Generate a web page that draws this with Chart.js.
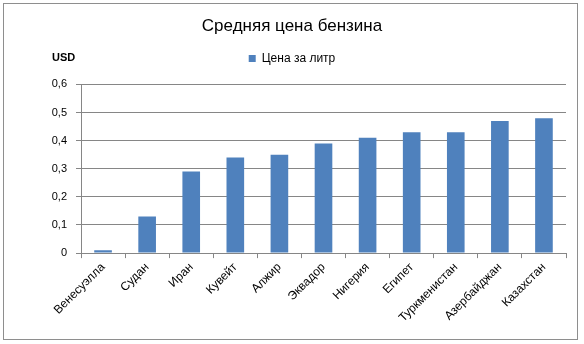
<!DOCTYPE html>
<html>
<head>
<meta charset="utf-8">
<script src="https://cdn.jsdelivr.net/npm/chart.js@4.4.1/dist/chart.umd.min.js"></script>
<style>
    body { margin: 0; background: #fff; }
    #wrap { position: relative; width: 584px; height: 344px; }
    #frame { position: absolute; left: 3px; top: 3px; width: 573px; height: 335px; border: 1px solid #8e8e8e; }
    canvas { position: absolute; left: 0; top: 0; }
</style>
</head>
<body>
<div id="wrap">
    <div id="frame"></div>
    <canvas id="fuelChart" width="584" height="344"></canvas>
</div>
<script>
// --- DATA ---
const countries = ['Венесуэлла', 'Судан', 'Иран', 'Кувейт', 'Алжир', 'Эквадор', 'Нигерия', 'Египет', 'Туркменистан', 'Азербайджан', 'Казахстан'];
const pricePerLitre = [0.01, 0.13, 0.29, 0.34, 0.35, 0.39, 0.41, 0.43, 0.43, 0.47, 0.48];
const chartTitle = 'Средняя цена бензина';
const seriesName = 'Цена за литр';
const unitLabel = 'USD';

const FONT = '"Liberation Sans", Arial, sans-serif';
const GRID = '#868686';

// small plugin for the "USD" caption above the value axis
const unitCaption = {
    id: 'unitCaption',
    afterDraw(chart) {
        const ctx = chart.ctx;
        ctx.save();
        ctx.font = 'bold 11px ' + FONT;
        ctx.fillStyle = '#000';
        ctx.textBaseline = 'middle';
        ctx.fillText(unitLabel, 52, 58);
        ctx.restore();
    }
};

// extra room under the legend, before the plot starts
const legendGap = {
    id: 'legendGap',
    beforeInit(chart) {
        const fit = chart.legend.fit;
        chart.legend.fit = function () {
            fit.call(this);
            this.height += 10;
        };
    }
};

new Chart(document.getElementById('fuelChart'), {
    type: 'bar',
    data: {
        labels: countries,
        datasets: [{
            label: seriesName,
            data: pricePerLitre,
            backgroundColor: '#4f81bd',
            borderWidth: 0,
            categoryPercentage: 1,
            barPercentage: 0.4
        }]
    },
    options: {
        responsive: false,
        animation: false,
        layout: { padding: { left: 18, right: 18, top: 3, bottom: 17 } },
        plugins: {
            title: {
                display: true,
                text: chartTitle,
                color: '#000',
                font: { family: FONT, size: 17, weight: 'normal' },
                padding: { top: 13, bottom: 8 }
            },
            legend: {
                display: true,
                labels: {
                    color: '#000',
                    boxWidth: 7,
                    boxHeight: 7,
                    padding: 8,
                    font: { family: FONT, size: 12 }
                }
            },
            tooltip: { enabled: false }
        },
        scales: {
            x: {
                grid: { display: true, drawOnChartArea: false, color: GRID, tickLength: 5, offset: true },
                border: { color: GRID },
                ticks: {
                    color: '#000',
                    font: { family: FONT, size: 12 },
                    minRotation: 45,
                    maxRotation: 45,
                    padding: 2
                }
            },
            y: {
                min: 0,
                max: 0.6,
                afterFit(scale) { scale.width = 63; },
                grid: { color: GRID, tickLength: 5 },
                border: { color: GRID },
                ticks: {
                    stepSize: 0.1,
                    color: '#000',
                    padding: 9,
                    font: { family: FONT, size: 11 },
                    callback: v => String(Math.round(v * 10) / 10).replace('.', ',')
                }
            }
        }
    },
    plugins: [unitCaption, legendGap]
});
</script>
</body>
</html>
